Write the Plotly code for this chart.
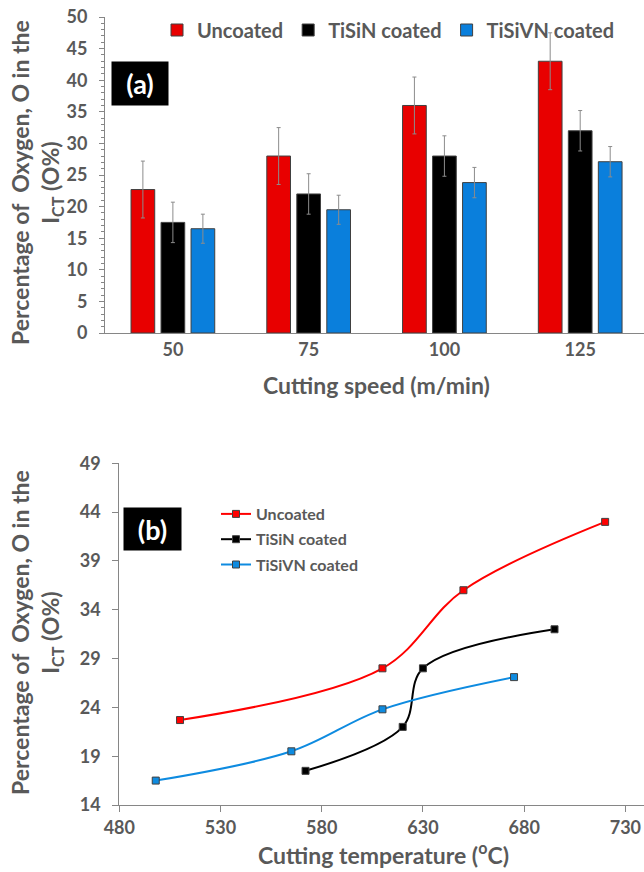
import plotly.graph_objects as go

# ---- data (a) ----
speeds = ["50", "75", "100", "125"]
uncoated_a = [22.7, 28.0, 36.0, 43.0]
tisin_a = [17.5, 22.0, 28.0, 32.0]
tisivn_a = [16.5, 19.5, 23.8, 27.1]
err_uncoated = [4.5, 4.5, 4.5, 4.5]
err_tisin = [3.2, 3.2, 3.2, 3.2]
err_tisivn = [2.3, 2.3, 2.4, 2.4]

# ---- data (b) ----
temp_uncoated = [510, 610, 650, 720]
oxy_uncoated = [22.7, 28.0, 36.0, 43.0]
temp_tisin = [572, 620, 630, 695]
oxy_tisin = [17.5, 22.0, 28.0, 32.0]
temp_tisivn = [498, 565, 610, 675]
oxy_tisivn = [16.5, 19.5, 23.8, 27.1]

x_ticks_b = [480, 530, 580, 630, 680, 730]
y_ticks_b = [14, 19, 24, 29, 34, 39, 44, 49]

RED = "#E80000"
BLACK = "#000000"
BLUE = "#0A7FDC"
GREY = "#595959"
AX = "#868686"
FONT = "Lato"

W, H = 644, 872

fig = go.Figure()

for name, vals, err, col in [("Uncoated", uncoated_a, err_uncoated, RED),
                             ("TiSiN coated", tisin_a, err_tisin, BLACK),
                             ("TiSiVN coated", tisivn_a, err_tisivn, BLUE)]:
    fig.add_trace(go.Bar(
        x=speeds, y=vals, name=name, marker=dict(color=col, line=dict(color="#404040", width=1)),
        error_y=dict(type="data", array=err, visible=True, color="#8C8C8C", thickness=1, width=2),
        xaxis="x", yaxis="y", legend="legend"))

for name, xs, ys, col in [("Uncoated", temp_uncoated, oxy_uncoated, "#FF0000"),
                          ("TiSiN coated", temp_tisin, oxy_tisin, BLACK),
                          ("TiSiVN coated", temp_tisivn, oxy_tisivn, "#0E8BE0")]:
    fig.add_trace(go.Scatter(
        x=xs, y=ys, name=name, mode="lines+markers", legendgroup="b_" + name,
        line=dict(color=col, width=2, shape="spline", smoothing=1.0),
        marker=dict(symbol="square", size=7, color=col, line=dict(color="#404040", width=1)),
        xaxis="x2", yaxis="y2", legend="legend2"))

tf = dict(family=FONT, size=18, color=GREY, weight="bold")

common = dict(showgrid=False, showline=True, linecolor=AX, linewidth=1, tickcolor=AX,
              tickfont=tf, zeroline=False, automargin=False)

fig.update_layout(
    width=W, height=H,
    margin=dict(l=0, r=0, t=0, b=0, autoexpand=False),
    paper_bgcolor="white", plot_bgcolor="white",
    barmode="group", bargap=0.337, bargroupgap=0.21,
    font=dict(family=FONT, color=GREY),
    xaxis=dict(domain=[105 / W, 1], anchor="y", ticks="", range=[-0.5, 3.47], **common),
    yaxis=dict(domain=[1 - 333 / H, 1 - 17 / H], anchor="x", range=[0, 50], dtick=5,
               ticks="outside", ticklen=5, ticklabelstandoff=8,
               minor=dict(dtick=1, ticks="outside", ticklen=3, tickcolor=AX), **common),
    xaxis2=dict(domain=[119.3 / W, 1], anchor="y2", range=[480, 739.2], tickvals=x_ticks_b,
                ticks="outside", ticklen=6, **common),
    yaxis2=dict(domain=[1 - 805 / H, 1 - 463.3 / H], anchor="x2", range=[14, 49], tickvals=y_ticks_b,
                ticks="outside", ticklen=6, ticklabelstandoff=8, **common),
    legend=dict(orientation="h", x=157 / W, xanchor="left", y=1 - 30 / H, yanchor="middle",
                font=dict(family=FONT, size=20, color=GREY, weight="bold"), bgcolor="rgba(0,0,0,0)",
                itemwidth=30, tracegroupgap=0),
    legend2=dict(orientation="v", x=216 / W, xanchor="left", y=1 - 497 / H, yanchor="top",
                 font=dict(family=FONT, size=16, color=GREY, weight="bold"), bgcolor="rgba(0,0,0,0)",
                 itemwidth=30, tracegroupgap=1.5),
    showlegend=True,
)

ann_font = dict(family=FONT, size=23, color=GREY, weight="bold")
ytitle = "Percentage of  Oxygen, O in the<br>I<sub>CT</sub> (O%)"
for yc in (183, 633):
    fig.add_annotation(text=ytitle, textangle=-90, x=36 / W, y=1 - yc / H, xref="paper", yref="paper",
                       xanchor="center", yanchor="middle", showarrow=False, font=ann_font, align="center")
fig.add_annotation(text="Cutting speed (m/min)", x=376 / W, y=1 - 385 / H, xref="paper", yref="paper",
                   xanchor="center", yanchor="middle", showarrow=False, font=ann_font)
fig.add_annotation(text="Cutting temperature (<sup>o</sup>C)", x=383 / W, y=1 - 853 / H, xref="paper",
                   yref="paper", xanchor="center", yanchor="middle", showarrow=False, font=ann_font)

box_font = dict(family=FONT, size=27, color="white", weight="bold")
fig.add_annotation(text="(a)", x=140 / W, y=1 - 83.5 / H, xref="paper", yref="paper", showarrow=False,
                   xanchor="center", yanchor="middle",
                   font=box_font, bgcolor="black", width=56, height=43, borderpad=0)
fig.add_annotation(text="(b)", x=152.5 / W, y=1 - 529 / H, xref="paper", yref="paper", showarrow=False,
                   xanchor="center", yanchor="middle",
                   font=box_font, bgcolor="black", width=57, height=42, borderpad=0)

fig.write_html("out.html", config={"displayModeBar": False},
               post_script="document.body.style.margin='0';document.body.style.overflow='hidden';")
